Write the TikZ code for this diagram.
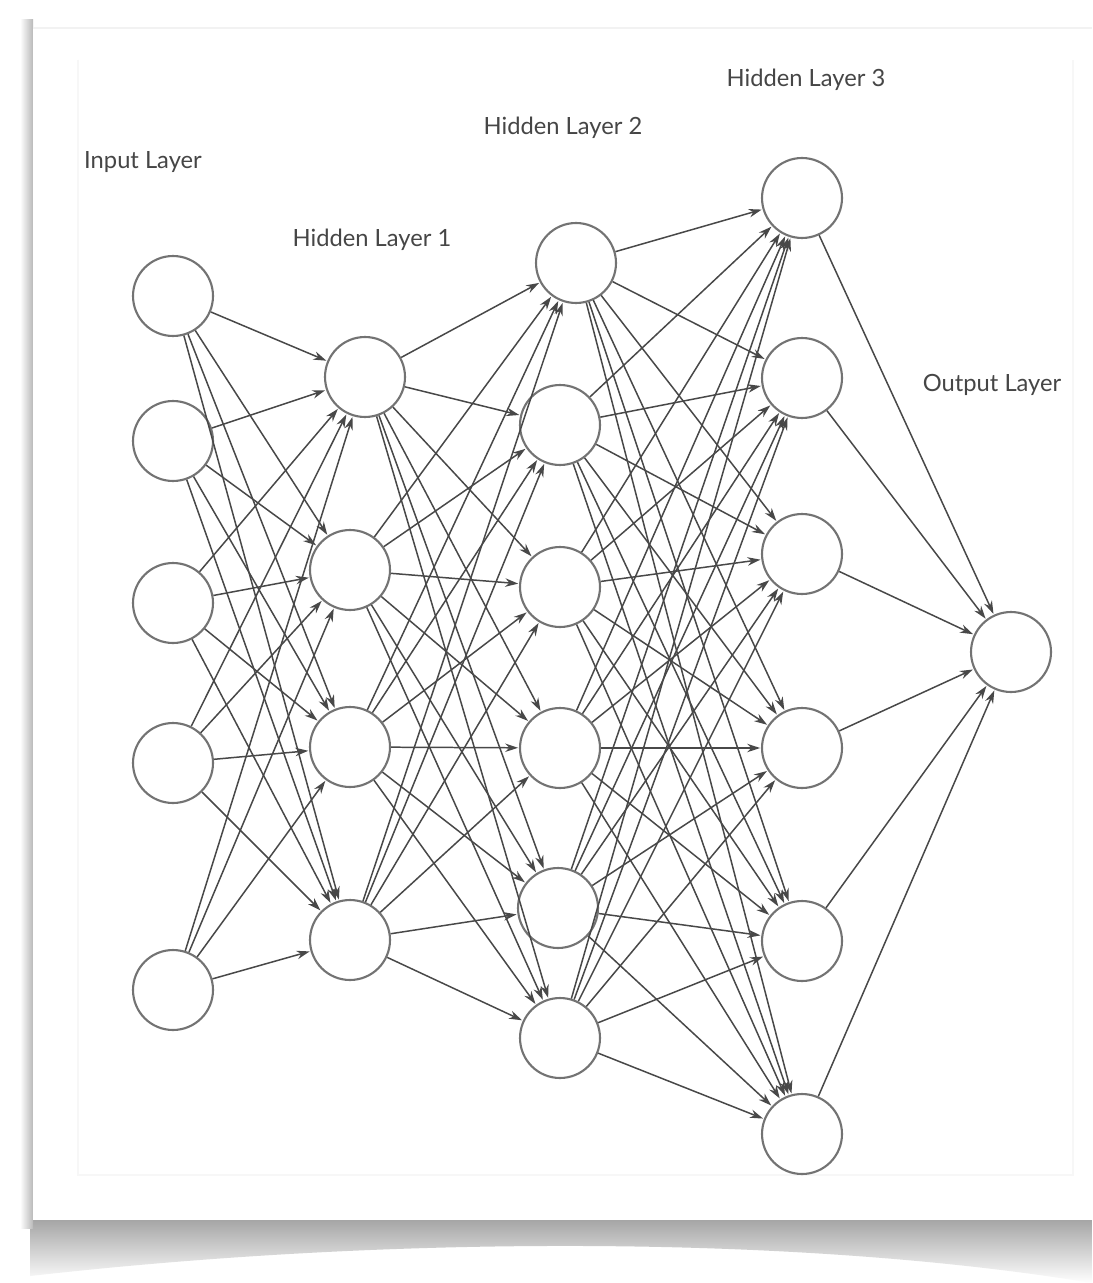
\documentclass[tikz,border=0pt]{standalone}
\usepackage{fontspec}
\setmainfont{Lato}
\usepackage{tikz}
\usetikzlibrary{arrows.meta}
\definecolor{nnline}{RGB}{72,72,72}
\definecolor{nnring}{RGB}{115,115,115}
\definecolor{nntext}{RGB}{70,70,70}

\begin{document}
\begin{tikzpicture}[x=0.02cm,y=-0.02cm,
    neuron/.style={circle,draw=nnring,line width=1.2pt,fill=white,
                   minimum size=1.6cm,inner sep=0pt},
    link/.style={draw=nnline,line width=0.85pt,
                 -{Stealth[length=2.6mm,width=1.7mm]},shorten >=0.5pt},
    layername/.style={text=nntext,font=\fontsize{13.5}{15}\selectfont}]
  % page, drop shadow and the faint inner frame
  \useasboundingbox (0,0) rectangle (1092,1283);
  \fill[white] (0,0) rectangle (1092,1283);
  \shade[top color=gray!70,bottom color=white]
    (30,1220) -- (1092,1220) -- (1092,1283)
    .. controls (820,1238) and (420,1232) .. (30,1276) -- cycle;
  \shade[left color=white,right color=gray!55] (20,20) rectangle (33,1228);
  \fill[white] (33,28) rectangle (1092,1220);
  \draw[gray!10,line width=0.6pt] (33,28) -- (1092,28);
  \draw[gray!6,line width=0.8pt] (78,60) -- (78,1175) -- (1073,1175) -- (1073,60);

  % layers
  \foreach \y [count=\i] in {296,441,603,763,990}
    \node[neuron] (I-\i) at (173,\y) {};
  \foreach \x/\y [count=\i] in {365/377,350/570,350/747,350/940}
    \node[neuron] (A-\i) at (\x,\y) {};
  \foreach \x/\y [count=\i] in {576/263,560/425,560/587,560/748,558/908,560/1038}
    \node[neuron] (B-\i) at (\x,\y) {};
  \foreach \y [count=\i] in {198,378,554,748,941,1134}
    \node[neuron] (C-\i) at (802,\y) {};
  \node[neuron] (O) at (1011,652) {};

  % labels
  \node[layername] (inlbl) at (143,162) {Input Layer};
  \node[layername] (albl) at (372,240) {Hidden Layer 1};
  \node[layername] (blbl) at (563,128) {Hidden Layer 2};
  \node[layername] (clbl) at (806,80) {Hidden Layer 3};
  \node[layername] (olbl) at (992,385) {Output Layer};

  % full connections between neighbouring layers
  \foreach \i in {1,...,5}
    \foreach \j in {1,...,4}
      \draw[link] (I-\i) -- (A-\j);
  \foreach \i in {1,...,4}
    \foreach \j in {1,...,6}
      \draw[link] (A-\i) -- (B-\j);
  \foreach \i in {1,...,6}
    \foreach \j in {1,...,6}
      \draw[link] (B-\i) -- (C-\j);
  \foreach \i in {1,...,6}
    \draw[link] (C-\i) -- (O);
\end{tikzpicture}
\end{document}
